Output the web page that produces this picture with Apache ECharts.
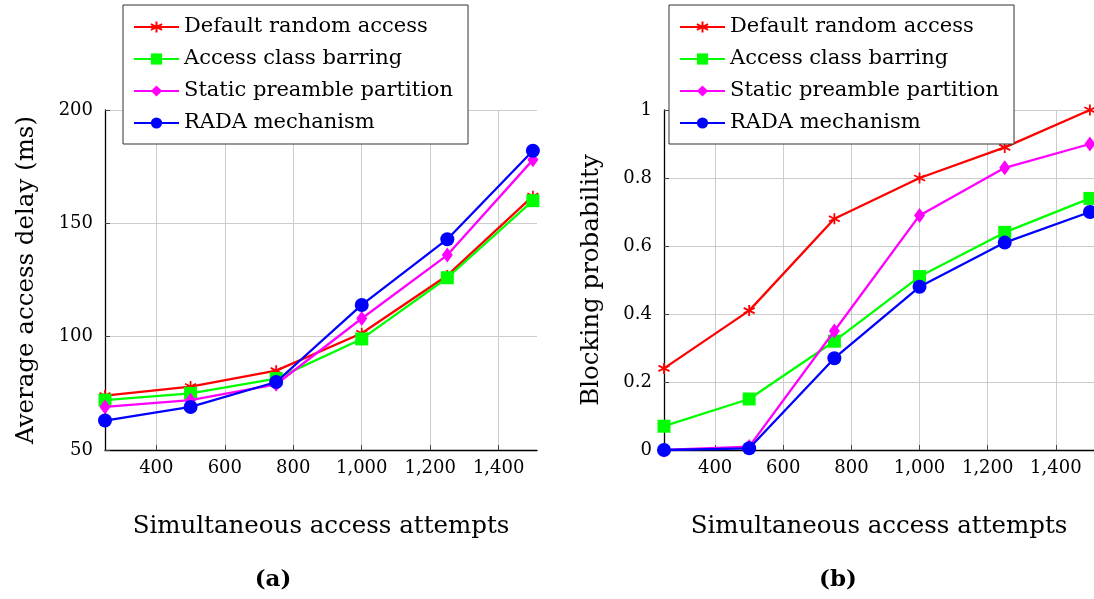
<!DOCTYPE html>
<html>
<head>
<meta charset="utf-8">
<script src="https://cdn.jsdelivr.net/npm/echarts@6/dist/echarts.min.js"></script>
<style>html,body{margin:0;padding:0;background:#fff}#c{width:1094px;height:599px}</style>
</head>
<body>
<div id="c"></div>
<script>
const attempts = [250, 500, 750, 1000, 1250, 1500];
const seriesNames = ['Default random access', 'Access class barring', 'Static preamble partition', 'RADA mechanism'];
const delayDefault = [74, 78, 85, 101.5, 127, 162];
const delayACB = [72, 75, 81.5, 99, 126, 160];
const delayStatic = [69, 72, 79, 108, 136, 178];
const delayRADA = [63, 69, 80, 114, 143, 182];
const blockDefault = [0.24, 0.41, 0.68, 0.80, 0.89, 1.0];
const blockACB = [0.07, 0.15, 0.32, 0.51, 0.64, 0.74];
const blockStatic = [0, 0.01, 0.35, 0.69, 0.83, 0.90];
const blockRADA = [0, 0.005, 0.27, 0.48, 0.61, 0.70];
const xTicks = [400, 600, 800, 1000, 1200, 1400];

const FONT = 'DejaVu Serif';
const colors = ['#ff0000', '#00ff00', '#ff00ff', '#0000ff'];
const asterisk = 'path://M0,-5L0,5M-4.33,-2.5L4.33,2.5M-4.33,2.5L4.33,-2.5';
const symbols = [asterisk, 'rect', 'diamond', 'circle'];
const symbolSizes = [11, 13, [11, 15], 14];

function fmt(v) { return String(v).replace(/\B(?=(\d{3})+(?!\d))/g, ','); }

function xAxis(gridIndex) {
  return {
    type: 'value', gridIndex, min: 250, max: 1512,
    name: 'Simultaneous access attempts', nameLocation: 'middle', nameGap: 64,
    nameTextStyle: { fontFamily: FONT, fontSize: 24.5, color: '#000' },
    axisLine: { show: true, lineStyle: { color: '#000', width: 1.3 } },
    axisTick: { show: true, inside: true, length: 5, customValues: xTicks, lineStyle: { color: '#444' } },
    axisLabel: { customValues: xTicks, formatter: fmt, fontFamily: FONT, fontSize: 18, color: '#000', margin: 9 },
    splitLine: { show: true, lineStyle: { color: '#cccccc', width: 1 } }
  };
}
function yAxis(gridIndex, min, max, interval, name, gap) {
  return {
    type: 'value', gridIndex, min, max, interval,
    name, nameLocation: 'middle', nameGap: gap,
    nameTextStyle: { fontFamily: FONT, fontSize: 24.5, color: '#000' },
    axisLine: { show: true, lineStyle: { color: '#000', width: 1.3 } },
    axisTick: { show: true, inside: true, length: 5, lineStyle: { color: '#444' } },
    axisLabel: { fontFamily: FONT, fontSize: 18, color: '#000', margin: 12 },
    splitLine: { show: true, lineStyle: { color: '#cccccc', width: 1 } }
  };
}
function mkSeries(gridIdx, idx, values) {
  return {
    type: 'line', name: seriesNames[idx], xAxisIndex: gridIdx, yAxisIndex: gridIdx,
    data: attempts.map((x, i) => [x, values[i]]),
    symbol: symbols[idx], symbolSize: symbolSizes[idx], clip: false,
    lineStyle: { color: colors[idx], width: 2.3 },
    itemStyle: idx === 0 ? { color: colors[idx], borderColor: colors[idx], borderWidth: 1.8 } : { color: colors[idx] },
    emphasis: { disabled: true }, animation: false, z: 3 + idx
  };
}
function legend(left) {
  return {
    orient: 'vertical', left, top: 5, data: seriesNames,
    backgroundColor: '#fff', borderColor: '#333', borderWidth: 1,
    padding: [10, 15, 9, 10], itemWidth: 45, itemHeight: 14, itemGap: 8,
    textStyle: { fontFamily: FONT, fontSize: 21, color: '#000', lineHeight: 24 },
    selectedMode: false, z: 10
  };
}

const chart = echarts.init(document.getElementById('c'), null, { renderer: 'canvas' });
chart.setOption({
  backgroundColor: '#fff',
  animation: false,
  grid: [
    { left: 105, top: 110, width: 432, height: 340 },
    { left: 664, top: 110, width: 432, height: 340 }
  ],
  xAxis: [xAxis(0), xAxis(1)],
  yAxis: [
    yAxis(0, 50, 200, 50, 'Average access delay (ms)', 66),
    yAxis(1, 0, 1, 0.2, 'Blocking probability', 60)
  ],
  legend: [legend(123), legend(669)],
  title: [
    { text: '(a)', left: 268, top: 564, textAlign: 'center', textStyle: { fontFamily: FONT, fontSize: 23, fontWeight: 'bold', color: '#000' } },
    { text: '(b)', left: 833, top: 564, textAlign: 'center', textStyle: { fontFamily: FONT, fontSize: 23, fontWeight: 'bold', color: '#000' } }
  ],
  series: [
    mkSeries(0, 0, delayDefault), mkSeries(0, 1, delayACB), mkSeries(0, 2, delayStatic), mkSeries(0, 3, delayRADA),
    mkSeries(1, 0, blockDefault), mkSeries(1, 1, blockACB), mkSeries(1, 2, blockStatic), mkSeries(1, 3, blockRADA)
  ]
});
</script>
</body>
</html>
